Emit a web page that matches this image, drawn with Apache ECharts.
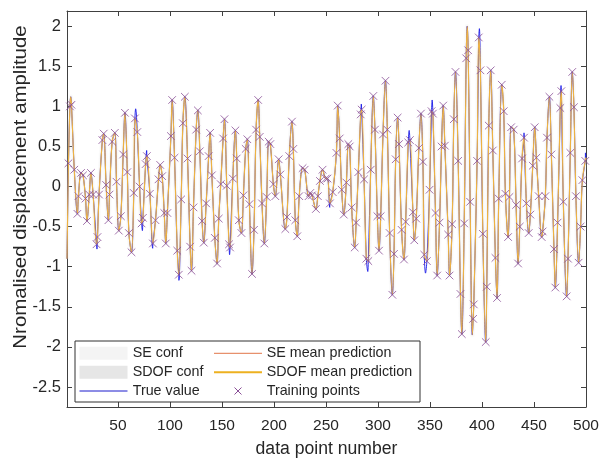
<!DOCTYPE html>
<html>
<head>
<meta charset="utf-8">
<script src="https://cdn.jsdelivr.net/npm/echarts@6/dist/echarts.min.js"></script>
<style>
  html, body { margin: 0; padding: 0; background: #ffffff; }
  #chart { width: 603px; height: 458px; }
</style>
</head>
<body>
<div id="chart"></div>
<script>
// Training points (data point number, normalised amplitude)
const trainX = [
  2.4, 3.8, 5.3, 8.0, 11.0, 12.0, 14.5, 16.4, 18.8, 20.2, 22.4, 24.0, 26.1, 29.4, 30.3, 31.8,
  35.0, 36.3, 38.6, 40.8, 41.9, 44.4, 47.0, 48.6, 50.8, 52.8, 55.0, 56.7, 59.0, 60.5, 63.0,
  65.2, 66.3, 68.6, 70.8, 72.7, 74.0, 76.6, 77.8, 80.7, 83.6, 86.1, 89.0, 90.6, 92.5, 94.5,
  96.0, 97.5, 100.9, 102.1, 104.4, 107.0, 108.5, 110.8, 112.4, 114.3, 116.9, 119.4, 120.7,
  122.6, 125.2, 126.8, 128.7, 130.9, 132.5, 134.8, 137.2, 138.6, 140.3, 143.1, 145.3, 146.9,
  148.8, 151.1, 152.4, 154.6, 156.8, 157.8, 160.4, 162.9, 164.2, 166.2, 168.7, 170.6, 172.8,
  174.4, 176.4, 178.9, 180.8, 182.8, 184.8, 186.3, 188.5, 190.7, 193.0, 194.9, 196.5, 199.4,
  201.3, 204.5, 206.1, 210.9, 212.5, 214.7, 217.3, 218.6, 220.5, 222.4, 224.3, 227.5, 229.5,
  233.3, 234.9, 236.5, 240.3, 242.2, 244.2, 246.7, 249.8, 251.5, 253.8, 256.5, 260.0, 261.3,
  263.2, 265.1, 267.1, 269.6, 271.5, 272.8, 274.7, 277.6, 279.0, 281.1, 283.4, 284.3, 286.6,
  288.8, 290.7, 293.0, 295.5, 297.1, 299.4, 301.0, 302.6, 304.8, 307.2, 309.0, 311.2, 313.8,
  315.4, 317.0, 318.9, 320.2, 322.7, 325.0, 326.6, 329.1, 330.7, 333.6, 334.9, 336.8, 339.3,
  341.3, 343.2, 344.5, 347.0, 349.6, 351.5, 352.8, 355.3, 356.9, 359.2, 361.1, 362.7, 364.3,
  367.5, 368.8, 371.3, 372.9, 374.5, 377.1, 379.3, 380.6, 382.9, 384.8, 386.7, 388.6, 391.5,
  392.1, 395.3, 396.9, 398.5, 400.8, 403.6, 404.6, 406.5, 408.4, 410.4, 412.9, 414.5, 416.1,
  419.0, 420.9, 422.5, 425.1, 426.4, 428.0, 430.5, 432.8, 434.7, 436.3, 438.5, 440.4, 442.7,
  444.9, 446.5, 448.8, 450.7, 452.3, 454.5, 457.4, 458.3, 460.9, 462.5, 464.8, 466.7, 469.2,
  470.5, 472.7, 475.3, 476.3, 478.2, 481.4, 482.7, 484.9, 486.8, 488.4, 490.3, 492.9, 494.8,
  496.5, 499.3
];
const trainY = [
  0.29, 1.00, 1.02, 0.21, -0.34, -0.12, 0.17, 0.14, -0.15, -0.43, -0.10, 0.17, -0.10, -0.72, -0.63, -0.10,
  0.58, 0.66, 0.02, -0.42, -0.10, 0.56, 0.67, 0.06, -0.55, -0.37, 0.40, 0.92, 0.18, -0.58, -0.82,
  -0.08, 0.85, 0.68, 0.00, -0.46, -0.39, 0.28, 0.38, -0.09, -0.71, -0.42, 0.09, 0.27, 0.13, -0.33,
  -0.71, -0.33, 0.63, 1.08, 0.36, -0.80, -1.10, -0.16, 0.79, 1.12, 0.35, -0.75, -1.05,
  -0.26, 0.71, 0.95, 0.44, -0.43, -0.70, -0.21, 0.38, 0.67, 0.14, -0.64, -0.96, -0.40,
  0.03, 0.60, 0.84, 0.01, -0.72, -0.76, 0.10, 0.70, 0.35, -0.42, -0.58, -0.11, 0.47,
  0.59, -0.22, -1.09, -0.54, 0.71, 1.08, 0.62, -0.21, -0.71, -0.13, 0.56, 0.53, 0.03,
  -0.12, 0.34, 0.15, -0.53, -0.38, 0.38, 0.81, 0.47, -0.42, -0.62, -0.12, 0.23, 0.21,
  -0.12, -0.08, -0.11, -0.28, -0.12, 0.07, 0.21, 0.10, 0.10, -0.21, -0.07, 0.42, 1.01,
  0.60, -0.04, -0.35, 0.05, 0.53, 0.50, -0.26, -0.76, -0.45, 0.18, 0.90, 0.96, 0.09,
  -0.90, -0.93, 0.21, 1.13, 0.71, -0.37, -0.80, -0.37, 0.65, 1.32, 0.71, -0.58, -1.35,
  -0.84, 0.34, 0.86, 0.53, -0.54, -0.91, -0.44, 0.55, 0.58, -0.32, -0.67, -0.40, 0.48,
  0.91, 0.31, -0.85, -0.93, -0.04, 0.94, 0.91, -0.33, -1.11, -0.45, 0.50, 1.01, 0.51,
  -0.60, -1.11, -0.47, 0.84, 1.43, 0.32, -1.34, -1.84, -0.46, 1.60, 1.70, -0.19, -1.65,
  -1.47, 0.32, 1.86, 1.45, -0.59, -1.94, -1.25, 0.76, 1.45, 0.45, -0.89, -1.39, -0.15,
  1.27, 0.94, -0.09, -0.63, -0.13, 0.74, 0.71, -0.23, -0.96, -0.50, 0.35, 0.61, -0.21,
  -0.58, -0.35, 0.26, 0.74, 0.36, -0.12, -0.63, -0.56, -0.12, 0.61, 1.12, 0.40, -0.78,
  -1.26, -0.45, 0.98, 1.19, -0.19, -1.37, -0.90, 0.42, 1.43, 0.99, -0.12, -0.95, -0.50,
  0.08, 0.32
];

// Extra extremes of the mean prediction between training points
const peakX = [1, 4.6, 385.8, 390.7, 500];
const peakY = [-0.90, 1.12, 2.00, -1.85, 0.36];

// Extremes where the true response pokes out beyond the prediction
const trueX = [29.8, 67.0, 73.5, 77.6, 83.4, 108.6, 157.3, 253.6, 284.0, 290.2, 330.0, 345.7, 352.1, 397.5, 440.4, 476.0, 499.5];
const trueY = [-0.78, 0.97, -0.55, 0.45, -0.77, -1.17, -0.85, -0.26, 1.03, -1.06, 0.70, -1.08, 1.08, 1.97, 0.67, 1.26, 0.42];

const xTicks = [50, 100, 150, 200, 250, 300, 350, 400, 450, 500];
const yTicks = [-2.5, -2, -1.5, -1, -0.5, 0, 0.5, 1, 1.5, 2];

const FONT = 'Liberation Sans, Arial, Helvetica, sans-serif';
const INK = '#262626';

function pairs(xs, ys) { return xs.map((x, i) => [x, ys[i]]); }
const byX = (a, b) => a[0] - b[0];
const trainPts = pairs(trainX, trainY);
const meanLine = trainPts.concat(pairs(peakX, peakY)).sort(byX);
const trueLine = meanLine.concat(pairs(trueX, trueY)).sort(byX);

const chart = echarts.init(document.getElementById('chart'), null, { renderer: 'canvas' });

const axisLineStyle = { color: '#404040', width: 1 };
const SMOOTH = 0.35;

function xAxisDef(pos, showLabels) {
  return {
    type: 'value', position: pos, min: 1, max: 500,
    axisLine: { show: true, onZero: false, lineStyle: axisLineStyle },
    axisTick: { show: true, inside: true, length: 5, customValues: xTicks, lineStyle: axisLineStyle },
    axisLabel: { show: showLabels, customValues: xTicks, color: INK, fontSize: 15.5, fontFamily: FONT, margin: 11 },
    splitLine: { show: false },
    name: showLabels ? 'data point number' : '',
    nameLocation: 'middle', nameGap: 33,
    nameTextStyle: { color: INK, fontSize: 17.6, fontFamily: FONT }
  };
}
function yAxisDef(pos, showLabels) {
  return {
    type: 'value', position: pos, min: -2.75, max: 2.19,
    axisLine: { show: true, onZero: false, lineStyle: axisLineStyle },
    axisTick: { show: true, inside: true, length: 5, customValues: yTicks, lineStyle: axisLineStyle },
    axisLabel: { show: showLabels, customValues: yTicks, color: INK, fontSize: 16.5, fontFamily: FONT, margin: 6 },
    splitLine: { show: false }
  };
}

// Legend drawn as graphic elements (two columns in a framed box)
const LX = 75, LY = 341, LW = 345, LH = 61;
const rows = [353.3, 372.3, 391];
const c1 = 79.5, c2 = 214, iw = 48;
const legendText = (x, y, t) => ({ type: 'text', x: x, y: y, style: { text: t, fill: INK, fontSize: 14.3, fontFamily: FONT, align: 'left', verticalAlign: 'middle' }, z: 101 });
const legend = [
  { type: 'rect', shape: { x: LX, y: LY, width: LW, height: LH }, style: { fill: '#ffffff', stroke: '#303030', lineWidth: 1 }, z: 100 },
  { type: 'rect', shape: { x: c1, y: rows[0] - 6.5, width: iw, height: 13 }, style: { fill: '#f4f4f4' }, z: 101 },
  { type: 'rect', shape: { x: c1, y: rows[1] - 6.5, width: iw, height: 13 }, style: { fill: '#e6e6e6' }, z: 101 },
  { type: 'line', shape: { x1: c1, y1: rows[2], x2: c1 + iw, y2: rows[2] }, style: { stroke: '#1a1acc', lineWidth: 1 }, z: 101 },
  { type: 'line', shape: { x1: c2, y1: rows[0], x2: c2 + iw, y2: rows[0] }, style: { stroke: '#D95319', lineWidth: 0.8 }, z: 101 },
  { type: 'line', shape: { x1: c2, y1: rows[1], x2: c2 + iw, y2: rows[1] }, style: { stroke: '#EDB120', lineWidth: 2 }, z: 101 },
  { type: 'line', shape: { x1: c2 + iw / 2 - 3.5, y1: rows[2] - 3.5, x2: c2 + iw / 2 + 3.5, y2: rows[2] + 3.5 }, style: { stroke: '#8a4f97', lineWidth: 1 }, z: 101 },
  { type: 'line', shape: { x1: c2 + iw / 2 - 3.5, y1: rows[2] + 3.5, x2: c2 + iw / 2 + 3.5, y2: rows[2] - 3.5 }, style: { stroke: '#8a4f97', lineWidth: 1 }, z: 101 },
  legendText(132.7, rows[0], 'SE conf'),
  legendText(132.7, rows[1], 'SDOF conf'),
  legendText(132.7, rows[2], 'True value'),
  legendText(266.7, rows[0], 'SE mean prediction'),
  legendText(266.7, rows[1], 'SDOF mean prediction'),
  legendText(266.7, rows[2], 'Training points'),
  // y-axis title
  { type: 'text', x: 21, y: 187, rotation: Math.PI / 2, scaleX: 1.16,
    style: { text: 'Nromalised displacement amplitude', fill: INK, fontSize: 17.6, fontFamily: FONT, align: 'center', verticalAlign: 'middle' }, z: 101 }
];

const option = {
  animation: false,
  backgroundColor: '#ffffff',
  grid: { left: 67, right: 17, top: 11, bottom: 51, containLabel: false, outerBoundsMode: 'none' },
  xAxis: [xAxisDef('bottom', true), xAxisDef('top', false)],
  yAxis: [yAxisDef('left', true), yAxisDef('right', false)],
  series: [
    { name: 'SE conf', type: 'line', data: meanLine, smooth: SMOOTH, showSymbol: false,
      lineStyle: { color: 'rgba(225,225,225,0.12)', width: 5 }, silent: true, z: 1 },
    { name: 'SDOF conf', type: 'line', data: meanLine, smooth: SMOOTH, showSymbol: false,
      lineStyle: { color: 'rgba(210,210,210,0.12)', width: 3 }, silent: true, z: 2 },
    { name: 'True value', type: 'line', data: trueLine, smooth: SMOOTH, showSymbol: false,
      lineStyle: { color: '#1515e6', width: 0.9 }, z: 3 },
    { name: 'SDOF mean prediction', type: 'line', data: meanLine, smooth: SMOOTH, showSymbol: false,
      lineStyle: { color: '#F0BC48', width: 1.15 }, z: 4 },
    { name: 'SE mean prediction', type: 'line', data: meanLine, smooth: SMOOTH, showSymbol: false,
      lineStyle: { color: '#D95319', width: 0.4, opacity: 0.25 }, z: 5 },
    { name: 'Training points', type: 'custom', data: trainPts, encode: { x: 0, y: 1 }, z: 6,
      renderItem: function (params, api) {
        const p = api.coord([api.value(0), api.value(1)]);
        const s = 3.8;
        const st = { stroke: '#8a4f97', lineWidth: 1, opacity: 0.8 };
        return { type: 'group', children: [
          { type: 'line', shape: { x1: p[0] - s, y1: p[1] - s, x2: p[0] + s, y2: p[1] + s }, style: st },
          { type: 'line', shape: { x1: p[0] - s, y1: p[1] + s, x2: p[0] + s, y2: p[1] - s }, style: st }
        ] };
      }
    }
  ],
  graphic: legend
};

chart.setOption(option);
</script>
</body>
</html>
